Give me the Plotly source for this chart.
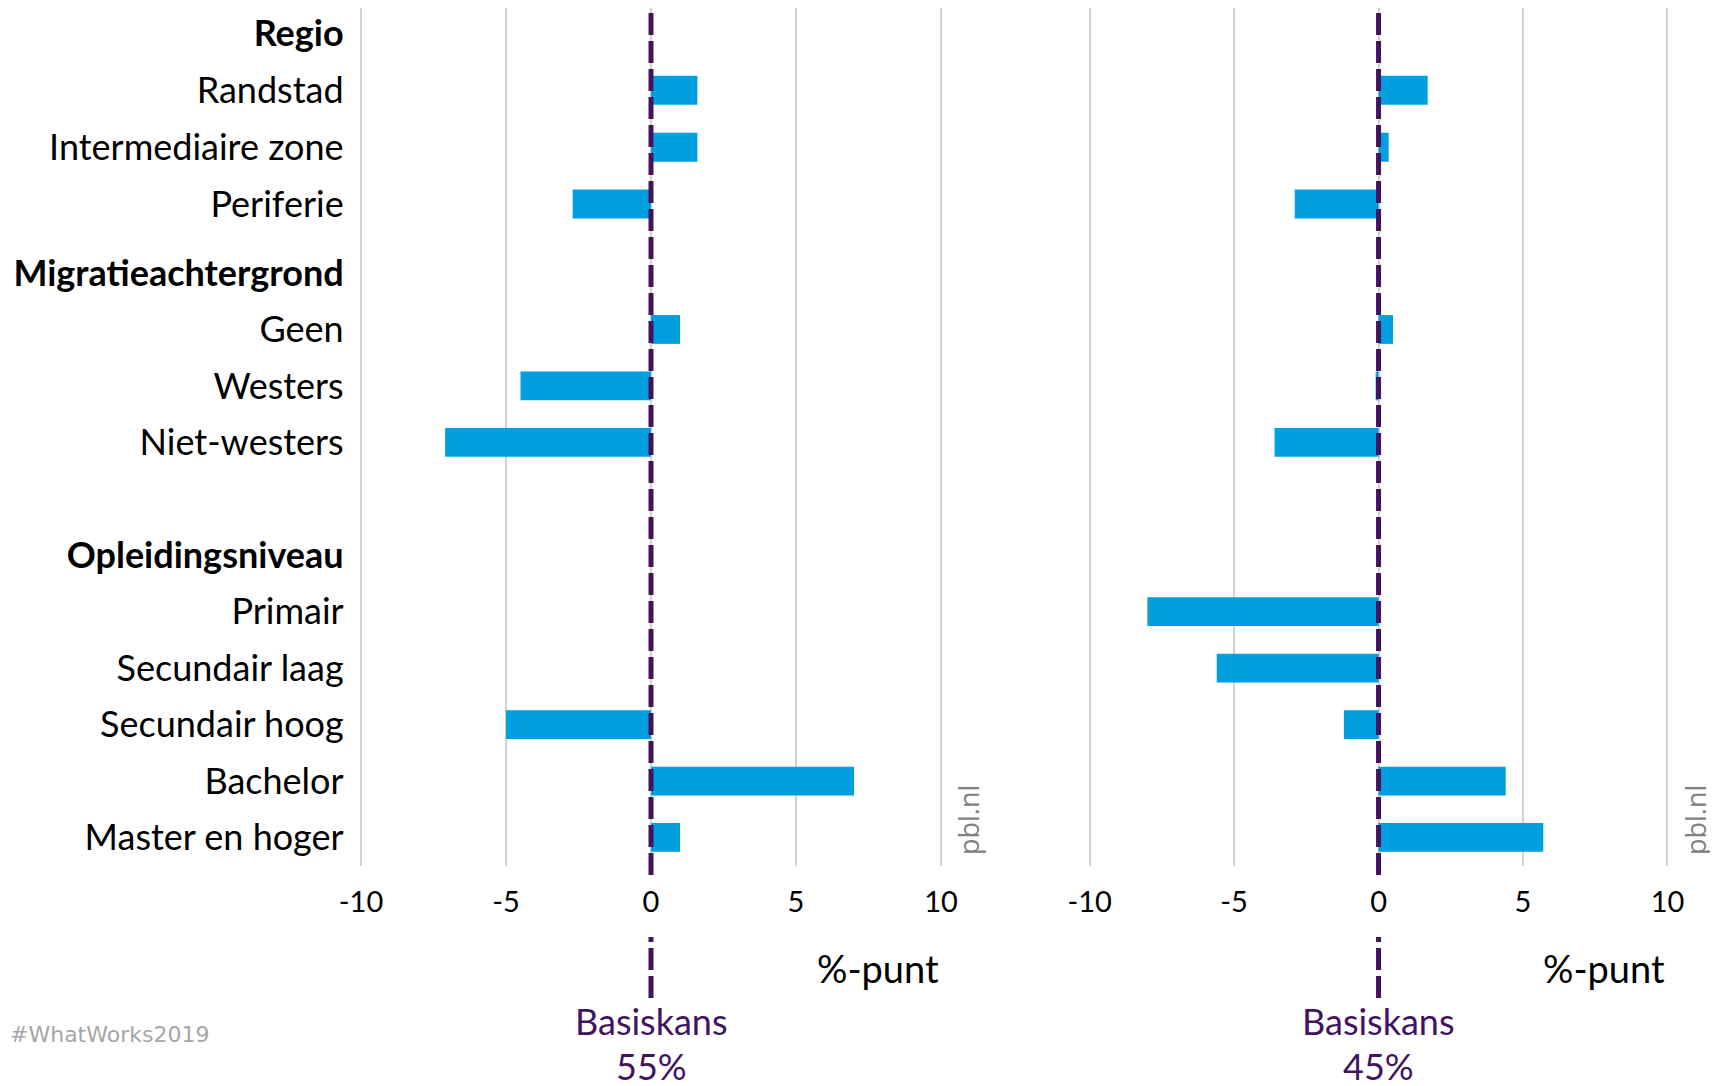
import plotly.graph_objects as go

# ---------------- data ----------------
top_categories = ["Regio", "Randstad", "Intermediaire zone", "Periferie"]
top_labels = ["<b>Regio</b>", "Randstad", "Intermediaire zone", "Periferie"]

bottom_categories = ["Migratieachtergrond", "Geen", "Westers", "Niet-westers", "leeg",
                     "Opleidingsniveau", "Primair", "Secundair laag", "Secundair hoog",
                     "Bachelor", "Master en hoger"]
bottom_labels = ["<b>Migratieachtergrond</b>", "Geen", "Westers", "Niet-westers", "",
                 "<b>Opleidingsniveau</b>", "Primair", "Secundair laag", "Secundair hoog",
                 "Bachelor", "Master en hoger"]

left_top_values = [None, 1.6, 1.6, -2.7]
right_top_values = [None, 1.7, 0.35, -2.9]
left_bottom_values = [None, 1.0, -4.5, -7.1, None, None, None, None, -5.0, 7.0, 1.0]
right_bottom_values = [None, 0.5, -0.1, -3.6, None, None, -8.0, -5.6, -1.2, 4.4, 5.7]

x_ticks = [-10, -5, 0, 5, 10]
x_ticklabels = ["-10", "-5", "0", "5", "10"]
base_rates = ["55%", "45%"]
x_title = "%-punt"
base_label = "Basiskans"

# ---------------- styling ----------------
W, H = 1718, 1086
OFF = 8  # page margin of the html body
FONT = "Lato, 'Open Sans', sans-serif"
BAR = "#009FDF"
PURPLE = "#42145F"
GRID = "#D2D2D2"


def px_x(p):
    return min(1.0, max(0.0, (p - OFF) / W))


def px_y(p):
    return min(1.0, max(0.0, 1 - (p - OFF) / H))


XPAD = 0.15
UNIT_L = (941 - 361) / 20.0
UNIT_R = (1667.5 - 1089.6) / 20.0
left_dom = [px_x(361 - XPAD * UNIT_L), px_x(941 + XPAD * UNIT_L)]
right_dom = [px_x(1089.6 - XPAD * UNIT_R), px_x(1667.5 + XPAD * UNIT_R)]

# top block: first row centre at 33.5 px, row pitch 56.83 px
TOP_PITCH = 56.83
top_edge = OFF
top_range_start = -(33.5 - top_edge) / TOP_PITCH
top_dom = [px_y(238.7), px_y(top_edge)]
bottom_dom = [px_y(865.7), px_y(238.7)]

fig = go.Figure()

panels = [
    ("x", "y", left_top_values, top_categories),
    ("x2", "y2", right_top_values, top_categories),
    ("x3", "y3", left_bottom_values, bottom_categories),
    ("x4", "y4", right_bottom_values, bottom_categories),
]
for xa, ya, vals, cats in panels:
    fig.add_trace(go.Bar(x=vals, y=cats, orientation="h", marker=dict(color=BAR, line=dict(width=0)),
                         xaxis=xa, yaxis=ya, showlegend=False, hoverinfo="x+y"))

xcommon = dict(range=[-10 - XPAD, 10 + XPAD], tickvals=x_ticks, ticktext=x_ticklabels, showgrid=True,
               gridcolor=GRID, gridwidth=1.5, zeroline=False, showline=False, ticks="",
               fixedrange=True, automargin=False)
ycommon = dict(type="category", showgrid=False, zeroline=False, showline=False, ticks="",
               fixedrange=True, automargin=False)

fig.update_layout(
    width=W, height=H, autosize=False,
    margin=dict(l=0, r=0, t=0, b=0, pad=0, autoexpand=False),
    paper_bgcolor="white", plot_bgcolor="white",
    bargap=0.49,
    font=dict(family=FONT, color="#000000", size=36),
    xaxis=dict(xcommon, domain=left_dom, anchor="y", showticklabels=False),
    xaxis2=dict(xcommon, domain=right_dom, anchor="y2", showticklabels=False),
    xaxis3=dict(xcommon, domain=left_dom, anchor="y3", showticklabels=True,
                tickfont=dict(size=29, family=FONT, color="#000000"), ticklabelstandoff=16),
    xaxis4=dict(xcommon, domain=right_dom, anchor="y4", showticklabels=True,
                tickfont=dict(size=29, family=FONT, color="#000000"), ticklabelstandoff=16),
    yaxis=dict(ycommon, domain=top_dom, anchor="x", categoryorder="array", categoryarray=top_categories,
               range=[3.61, top_range_start], tickvals=top_categories, ticktext=top_labels,
               tickfont=dict(size=36, family=FONT, color="#000000"), ticklabelstandoff=12),
    yaxis2=dict(ycommon, domain=top_dom, anchor="x2", categoryorder="array", categoryarray=top_categories,
                range=[3.61, top_range_start], showticklabels=False),
    yaxis3=dict(ycommon, domain=bottom_dom, anchor="x3", categoryorder="array", categoryarray=bottom_categories,
                range=[10.5, -0.608], tickvals=bottom_categories, ticktext=bottom_labels,
                tickfont=dict(size=36, family=FONT, color="#000000"), ticklabelstandoff=12),
    yaxis4=dict(ycommon, domain=bottom_dom, anchor="x4", categoryorder="array", categoryarray=bottom_categories,
                range=[10.5, -0.608], showticklabels=False),
)

# dashed base-rate lines
for xr in ["x3", "x4"]:
    fig.add_shape(type="line", xref=xr, yref="paper", x0=0, x1=0, y0=px_y(875), y1=px_y(top_edge),
                  line=dict(color=PURPLE, width=5, dash="22px,6px"), layer="above")
    fig.add_shape(type="line", xref=xr, yref="paper", x0=0, x1=0, y0=px_y(998), y1=px_y(937),
                  line=dict(color=PURPLE, width=5, dash="22px,6px"), layer="above")

# annotations
for xr, rate in zip(["x3", "x4"], base_rates):
    fig.add_annotation(x=10, xref=xr, y=px_y(968), yref="paper", text=x_title, showarrow=False,
                       xanchor="right", yanchor="middle", font=dict(size=38, family=FONT, color="#000000"))
    fig.add_annotation(x=0, xref=xr, y=px_y(1021), yref="paper", text=base_label, showarrow=False,
                       xanchor="center", yanchor="middle", font=dict(size=36, family=FONT, color=PURPLE))
    fig.add_annotation(x=0, xref=xr, y=px_y(1066), yref="paper", text=rate, showarrow=False,
                       xanchor="center", yanchor="middle", font=dict(size=36, family=FONT, color=PURPLE))

for xp in [968, 1695]:
    fig.add_annotation(x=px_x(xp), xref="paper", y=px_y(820), yref="paper", text="pbl.nl", showarrow=False,
                       textangle=-90, xanchor="center", yanchor="middle",
                       font=dict(size=27, family="'Open Sans', sans-serif", color="#808080"))

fig.add_annotation(x=0, xref="paper", y=px_y(1034), yref="paper", text="#WhatWorks2019", showarrow=False,
                   xanchor="left", yanchor="middle",
                   font=dict(size=22, family="'DejaVu Sans', sans-serif", color="#A6A6A6"))

fig.write_html("out.html")
